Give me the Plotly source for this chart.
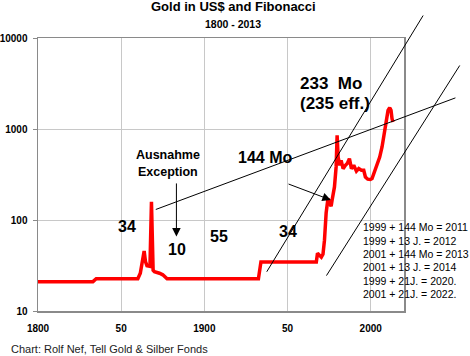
import math
import plotly.graph_objects as go

# ---------------- data ----------------
years = [1800, 1833, 1835, 1860, 1861.5, 1862.5, 1863.8, 1864.6, 1865.5, 1867.3,
         1868.2, 1869.2, 1870, 1873, 1875, 1877.6, 1932.5, 1934, 1967.3, 1968,
         1969, 1970.3, 1971.3, 1972.2, 1973.2, 1974.3, 1975.4, 1976.2, 1976.8, 1978.2,
         1979.2, 1979.8, 1980.4, 1981.4, 1982.2, 1983.4, 1984.8, 1986.0, 1987.2, 1988.4,
         1989.8, 1991.4, 1992.8, 1994.4, 1995.8, 1996.8, 1998.2, 1999.8, 2000.8, 2002.2,
         2003.8, 2005.4, 2006.8, 2007.8, 2008.7, 2009.8, 2010.4, 2011.4, 2012.2, 2012.8,
         2013.4]
price = [21.0, 21.0, 22.6, 22.6, 26, 33, 45.6, 35, 31.5, 31,
         159, 28, 27, 26, 25, 22.6, 22.6, 34.5, 34.5, 43,
         41, 39, 42, 60, 120, 172, 152, 142, 166, 231,
         383, 851, 492, 399, 453, 367, 399, 420, 473, 367,
         399, 344, 367, 352, 352, 297, 281, 279, 285, 337,
         399, 492, 634, 816, 1051, 1300, 1603, 1716, 1603, 1300,
         1192]

y_tickvals = [10, 100, 1000, 10000]
y_ticktext = ["10", "100", "1000", "10000"]
x_tickvals = [1800, 1850, 1900, 1950, 2000]
x_ticktext = ["1800", "50", "1900", "50", "2000"]

# Fibonacci trend lines (year, price) start -> end
trend_x0 = [1870.8, 1937.5, 1973.4]
trend_y0 = [130.5, 27.0, 24.5]
trend_x1 = [2050.9, 2031.5, 2053.5]
trend_y1 = [2198, 17660, 4990]

# arrows: tail (year, price) -> tip (year, price)
arrow_tail_x = [1883.2, 1949.7]
arrow_tail_y = [262, 252]
arrow_tip_x = [1883.2, 1976.0]
arrow_tip_y = [66, 166]

# labels on the chart: (text, year, price, size)
label_text = ["34", "10", "55", "34", "144 Mo", "Ausnahme", "Exception", "233  Mo", "(235 eff.)"]
label_x = [1853.6, 1883.5, 1909.0, 1950.2, 1936.6, 1877.9, 1877.9, 1976.3, 1978.5]
label_y = [84, 46.9, 65.3, 74, 485, 514, 337, 3190, 1897]
label_size = [16, 16, 16, 16, 16, 12.5, 12.5, 17, 17]

note_lines = ["1999 + 144 Mo = 2011", "1999 + 13 J. = 2012", "2001 + 144 Mo = 2013",
              "2001 + 13 J. = 2014", "1999 + 21J. = 2020.", "2001 + 21J. = 2022."]
note_x = 1994.0
note_y = [84.1, 59.0, 42.2, 30.1, 21.5, 15.2]

X_MIN, X_MAX = 1800, 2020
Y_MIN_LOG, Y_MAX_LOG = 1, 4
FONT = "Liberation Sans, Arial, sans-serif"


def xp(year):
    return (year - X_MIN) / (X_MAX - X_MIN)


def yp(v):
    return (math.log10(v) - Y_MIN_LOG) / (Y_MAX_LOG - Y_MIN_LOG)


fig = go.Figure()
fig.add_trace(go.Scatter(x=years, y=price, mode="lines",
                         line=dict(color="#ff0000", width=3.5),
                         hoverinfo="skip", showlegend=False))

shapes = []
for a, b, c, d in zip(trend_x0, trend_y0, trend_x1, trend_y1):
    shapes.append(dict(type="line", xref="paper", yref="paper",
                       x0=xp(a), y0=yp(b), x1=xp(c), y1=yp(d),
                       line=dict(color="black", width=1), layer="above"))

annotations = []
for tx, ty, hx, hy in zip(arrow_tail_x, arrow_tail_y, arrow_tip_x, arrow_tip_y):
    annotations.append(dict(xref="x", yref="y", axref="x", ayref="y",
                            x=hx, y=math.log10(hy), ax=tx, ay=math.log10(ty),
                            text="", showarrow=True, arrowhead=2, arrowsize=1.7,
                            arrowwidth=1, arrowcolor="black"))

for t, x, y, s in zip(label_text, label_x, label_y, label_size):
    annotations.append(dict(xref="x", yref="y", x=x, y=math.log10(y), text=t,
                            showarrow=False, xanchor="center", yanchor="middle",
                            font=dict(family=FONT, size=s, color="black", weight="bold")))

for t, y in zip(note_lines, note_y):
    annotations.append(dict(xref="x", yref="y", x=note_x, y=math.log10(y), text=t,
                            showarrow=False, xanchor="left", yanchor="middle",
                            font=dict(family=FONT, size=10.5, color="black")))

# titles and footer
annotations.append(dict(xref="paper", yref="paper", x=0.533, y=1.1136,
                        text="Gold in US$ and Fibonacci", showarrow=False,
                        xanchor="center", yanchor="middle",
                        font=dict(family=FONT, size=13, color="black", weight="bold")))
annotations.append(dict(xref="paper", yref="paper", x=0.533, y=1.0495,
                        text="1800 - 2013", showarrow=False,
                        xanchor="center", yanchor="middle",
                        font=dict(family=FONT, size=10.5, color="black", weight="bold")))
annotations.append(dict(xref="paper", yref="paper", x=-0.0784, y=-0.1403,
                        text="Chart: Rolf Nef, Tell Gold & Silber Fonds", showarrow=False,
                        xanchor="left", yanchor="middle",
                        font=dict(family=FONT, size=11, color="#222222")))

fig.update_layout(
    width=470, height=356,
    margin=dict(l=38, r=66, t=38, b=45),
    paper_bgcolor="white", plot_bgcolor="white",
    shapes=shapes, annotations=annotations,
    showlegend=False,
    xaxis=dict(range=[X_MIN, X_MAX], tickvals=x_tickvals, ticktext=x_ticktext,
               showgrid=True, gridcolor="#c8c8c8", gridwidth=1,
               showline=True, linecolor="#8a8a8a", linewidth=1.5, mirror=True,
               zeroline=False, ticks="", automargin=False, ticklabelstandoff=7,
               tickfont=dict(family=FONT, size=10, color="black", weight="bold")),
    yaxis=dict(type="log", range=[Y_MIN_LOG, Y_MAX_LOG], tickvals=y_tickvals,
               ticktext=y_ticktext, automargin=False, ticklabelstandoff=3,
               showgrid=True, gridcolor="#c8c8c8", gridwidth=1,
               showline=True, linecolor="#8a8a8a", linewidth=1.5, mirror=True,
               zeroline=False, ticks="outside", ticklen=4, tickcolor="#8a8a8a",
               tickfont=dict(family=FONT, size=10, color="black", weight="bold")),
)

fig.write_html("out.html",
               config={"displayModeBar": False, "staticPlot": True},
               post_script="document.body.style.margin='0';document.body.style.padding='0';")
